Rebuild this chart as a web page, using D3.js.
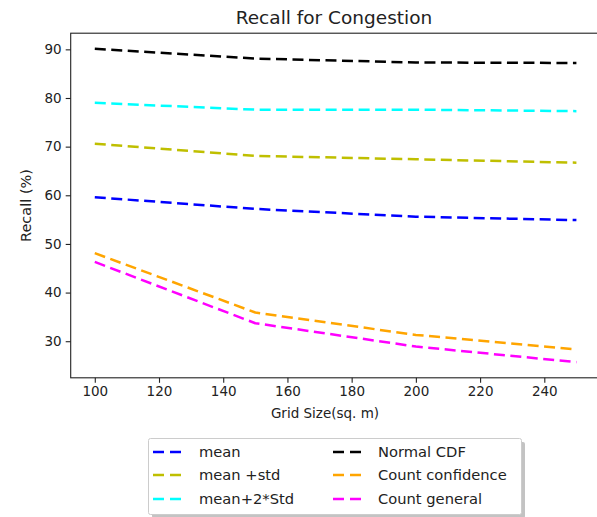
<!DOCTYPE html>
<html>
<head>
<meta charset="utf-8">
<script src="https://cdn.jsdelivr.net/npm/d3@7"></script>
<style>
  html, body { margin: 0; padding: 0; background: #fff; }
  svg { display: block; font-family: "DejaVu Sans", sans-serif; }
</style>
</head>
<body>
<svg id="chart" width="597" height="517"></svg>
<script>
const gridSizes = [100, 150, 200, 250];
const meanVals = [59.6, 57.2, 55.6, 54.9];
const meanStdVals = [70.6, 68.1, 67.4, 66.7];
const mean2StdVals = [79.0, 77.6, 77.6, 77.3];
const normalCdfVals = [90.1, 88.1, 87.3, 87.2];
const countConfVals = [48.1, 35.9, 31.3, 28.3];
const countGenVals = [46.3, 33.7, 28.9, 25.7];
const seriesNames = ["mean", "mean +std", "mean+2*Std", "Normal CDF", "Count confidence", "Count general"];
const seriesColors = ["#0000ff", "#bfbf00", "#00ffff", "#000000", "#ffa500", "#ff00ff"];
const xTicks = [100, 120, 140, 160, 180, 200, 220, 240];
const yTicks = [30, 40, 50, 60, 70, 80, 90];

const seriesVals = [meanVals, meanStdVals, mean2StdVals, normalCdfVals, countConfVals, countGenVals];
const series = seriesNames.map((n, i) => ({
  name: n, color: seriesColors[i],
  values: gridSizes.map((g, j) => ({x: g, y: seriesVals[i][j]}))
}));

const svg = d3.select("#chart");
const L = 70.7, R = 600.5, T = 33.2, B = 377.8;

const xMin = d3.min(gridSizes), xMax = d3.max(gridSizes);
const xPad = (xMax - xMin) * 0.05;
const allY = seriesVals.flat();
const yMin = d3.min(allY), yMax = d3.max(allY);
const yPad = (yMax - yMin) * 0.05;

const x = d3.scaleLinear().domain([xMin - xPad, xMax + xPad]).range([L, R]);
const y = d3.scaleLinear().domain([yMin - yPad, yMax + yPad]).range([B, T]);

svg.append("clipPath").attr("id", "clip")
  .append("rect").attr("x", L).attr("y", T).attr("width", R - L).attr("height", B - T);

const line = d3.line().x(d => x(d.x)).y(d => y(d.y)).curve(d3.curveLinear);

svg.append("g").attr("clip-path", "url(#clip)")
  .selectAll("path").data(series).join("path")
  .attr("d", d => line(d.values))
  .attr("fill", "none")
  .attr("stroke", d => d.color)
  .attr("stroke-width", 2.5)
  .attr("stroke-linejoin", "round")
  .attr("stroke-dasharray", "11,5.5");

// axes
const xAxis = svg.append("g").attr("transform", `translate(0,${B})`)
  .call(d3.axisBottom(x).tickValues(xTicks).tickSize(5).tickPadding(4));
const yAxis = svg.append("g").attr("transform", `translate(${L},0)`)
  .call(d3.axisLeft(y).tickValues(yTicks).tickSize(5).tickPadding(4));
[xAxis, yAxis].forEach(a => {
  a.select(".domain").remove();
  a.selectAll("line").attr("stroke", "#222").attr("stroke-width", 1.1);
  a.selectAll("text").attr("fill", "#222").style("font-size", "13.5px").style("font-family", "DejaVu Sans");
});

// spines
svg.append("rect").attr("x", L).attr("y", T).attr("width", R - L).attr("height", B - T)
  .attr("fill", "none").attr("stroke", "#222").attr("stroke-width", 1.1);

// title & labels
svg.append("text").attr("x", 334).attr("y", 24).attr("text-anchor", "middle")
  .style("font-size", "18.5px").attr("fill", "#222").text("Recall for Congestion");
svg.append("text").attr("x", 325).attr("y", 418).attr("text-anchor", "middle")
  .style("font-size", "13.5px").attr("fill", "#222").text("Grid Size(sq. m)");
svg.append("text").attr("transform", `translate(31,${(T + B) / 2}) rotate(-90)`)
  .attr("text-anchor", "middle").style("font-size", "14.5px").attr("fill", "#222").text("Recall (%)");

// legend
const lg = svg.append("g");
lg.append("rect").attr("x", 152).attr("y", 442).attr("width", 373).attr("height", 76)
  .attr("fill", "#888").attr("opacity", 0.5).attr("rx", 2);
lg.append("rect").attr("x", 148.5).attr("y", 438.5).attr("width", 373).attr("height", 76)
  .attr("fill", "#fff").attr("stroke", "#ccc").attr("stroke-width", 1).attr("rx", 2);
const colX = [153, 333], textX = [199, 378], rowY = [452, 475, 499];
series.forEach((s, i) => {
  const c = i < 3 ? 0 : 1, r = i % 3;
  lg.append("line").attr("x1", colX[c]).attr("x2", colX[c] + 30)
    .attr("y1", rowY[r]).attr("y2", rowY[r])
    .attr("stroke", s.color).attr("stroke-width", 2.5).attr("stroke-dasharray", "11,6");
  lg.append("text").attr("x", textX[c]).attr("y", rowY[r] + 5)
    .style("font-size", "14.7px").attr("fill", "#222").text(s.name);
});
</script>
</body>
</html>
